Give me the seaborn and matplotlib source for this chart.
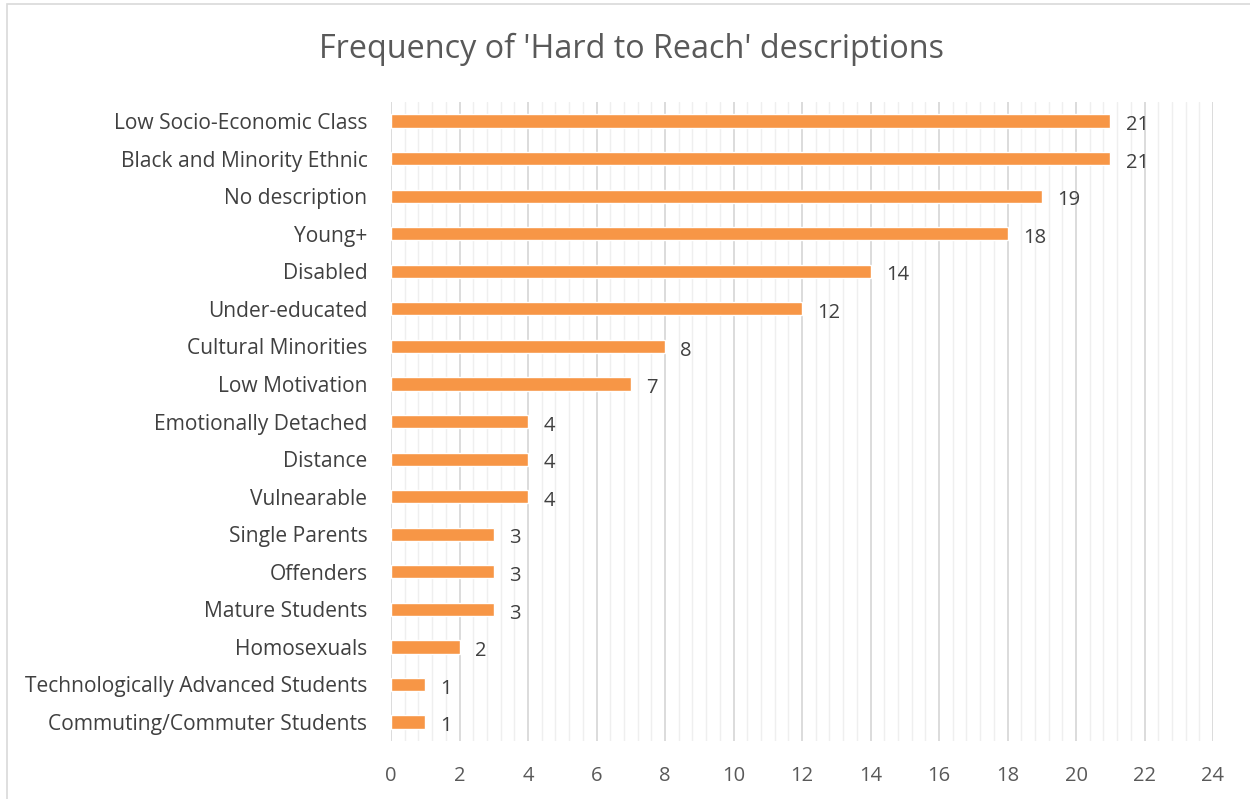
"""
Frequency of 'Hard to Reach' descriptions - horizontal bar chart.
"""
import matplotlib
matplotlib.use('Agg')
import matplotlib.pyplot as plt
from matplotlib.patches import Rectangle
from matplotlib.ticker import MultipleLocator
import pandas as pd
import seaborn as sns

categories = [
    'Low Socio-Economic Class', 'Black and Minority Ethnic', 'No description',
    'Young+', 'Disabled', 'Under-educated', 'Cultural Minorities',
    'Low Motivation', 'Emotionally Detached', 'Distance', 'Vulnearable',
    'Single Parents', 'Offenders', 'Mature Students', 'Homosexuals',
    'Technologically Advanced Students', 'Commuting/Commuter Students',
]
counts = [21, 21, 19, 18, 14, 12, 8, 7, 4, 4, 4, 3, 3, 3, 2, 1, 1]
x_ticks = list(range(0, 25, 2))

BAR_COLOR = '#F79646'
TEXT_COLOR = '#595959'

sns.set_theme(style='white')
plt.rcParams['font.family'] = ['Open Sans', 'DejaVu Sans']

df = pd.DataFrame({'category': categories, 'count': counts})

fig = plt.figure(figsize=(12.5, 7.99), dpi=100)
ax = fig.add_axes([0.3128, 0.0728, 0.9704 - 0.3128, 0.872 - 0.0728])

sns.barplot(data=df, x='count', y='category', color=BAR_COLOR, saturation=1,
            width=0.35, ax=ax, orient='h')

ax.set_xlim(0, 24)
ax.xaxis.set_major_locator(MultipleLocator(2))
ax.xaxis.set_minor_locator(MultipleLocator(0.4))
ax.grid(axis='x', which='major', color='#D9D9D9', linewidth=1.3)
ax.grid(axis='x', which='minor', color='#EFEFEF', linewidth=1.0)
ax.set_axisbelow(True)
for s in ax.spines.values():
    s.set_visible(False)

ax.set_xticks(x_ticks)
ax.tick_params(axis='x', which='both', length=0, pad=18, labelsize=14.5, labelcolor=TEXT_COLOR)
ax.tick_params(axis='y', length=0, pad=17, labelsize=15.1, labelcolor='#404040')
ax.set_xlabel('')
ax.set_ylabel('')

# подписи значений чуть ниже центра полосы, как в оригинале
for bar_cont in ax.containers:
    labels = ax.bar_label(bar_cont, padding=11, fontsize=14.5, color='#404040')
    for t in labels:
        t.xyann = (11, -3)

fig.text(0.505, 0.938, "Frequency of 'Hard to Reach' descriptions",
         ha='center', va='center', fontsize=23.3, color=TEXT_COLOR)

# outer chart border
fig.patches.append(Rectangle((7 / 1250, -0.01), 1.0, 1 - 4 / 799 + 0.01,
                             transform=fig.transFigure, fill=False,
                             edgecolor='#D9D9D9', linewidth=1.2))

fig.savefig('out.png', dpi=100, facecolor='white')
